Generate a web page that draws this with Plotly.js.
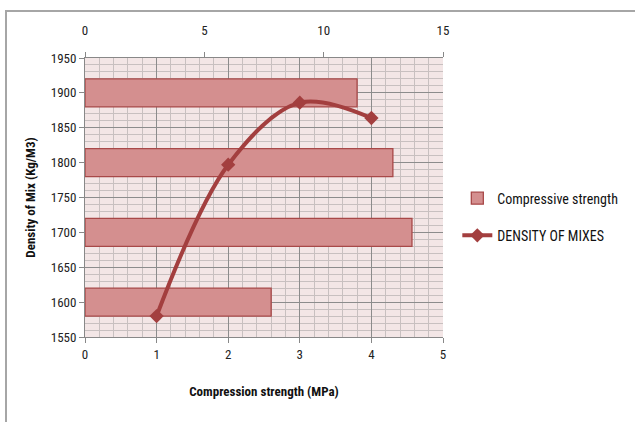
<!DOCTYPE html>
<html>
<head>
<meta charset="utf-8">
<script src="https://cdn.plot.ly/plotly-3.0.1.min.js"></script>
<style>
  html, body { margin: 0; padding: 0; background: #fff; }
  #chart { width: 635px; height: 422px; position: relative; }
  #frame { position: absolute; left: 5px; top: 10px; width: 640px; height: 430px;
           border-left: 2px solid #a6a6a6; border-top: 2px solid #a6a6a6; pointer-events: none; }
</style>
</head>
<body>
<div id="chart"></div>
<div id="frame"></div>
<script>
// Bars: compressive strength per category (top axis 0-15)
const barCategories = [1, 2, 3, 4];
const barValues = [7.8, 13.7, 12.9, 11.4];
// Line: density of mixes vs compression strength (bottom axis)
const lineX = [1, 2, 3, 4];
const lineY = [1580, 1797, 1886, 1864];
const seriesNames = ['Compressive strength', 'DENSITY OF MIXES'];

const FONT = 'Liberation Sans Narrow, Roboto Condensed, Arial Narrow, Liberation Sans, sans-serif';
const darkRed = '#a33f3f';

const data = [
  {
    type: 'bar', orientation: 'h',
    x: barValues, y: barCategories,
    xaxis: 'x', yaxis: 'y',
    width: 0.4,
    name: seriesNames[0], legendgroup: 'a',
    marker: { color: '#d48f8f', line: { color: '#a84848', width: 1.3 } }
  },
  {
    type: 'scatter', mode: 'lines+markers',
    x: lineX, y: lineY,
    xaxis: 'x2', yaxis: 'y2',
    name: seriesNames[1], legendgroup: 'b',
    line: { color: darkRed, width: 4, shape: 'spline', smoothing: 1 },
    marker: { symbol: 'diamond', size: 11, color: darkRed }
  }
];

const layout = {
  width: 635, height: 422,
  margin: { l: 85, r: 190, t: 58, b: 85 },
  paper_bgcolor: '#ffffff',
  plot_bgcolor: '#f3e6e6',
  font: { family: FONT, size: 13, color: '#222' },
  showlegend: true,
  legend: {
    x: 1.04, y: 0.43, xanchor: 'left', yanchor: 'middle',
    traceorder: 'grouped',
    font: { family: FONT, size: 14, color: '#111' },
    tracegroupgap: 16, itemwidth: 30
  },
  xaxis: {
    side: 'top', range: [0, 15], dtick: 5, tick0: 0,
    showgrid: false, zeroline: false,
    ticks: 'outside', ticklen: 5, tickcolor: '#888',
    ticklabelstandoff: 12,
    showline: true, linecolor: '#888', linewidth: 1,
    tickfont: { family: FONT, size: 13, color: '#222' }
  },
  yaxis: {
    range: [0.5, 4.5], visible: false, showgrid: false, zeroline: false
  },
  xaxis2: {
    overlaying: 'x', side: 'bottom', range: [0, 5], dtick: 1, tick0: 0,
    showgrid: true, gridcolor: '#8c8c8c', gridwidth: 1,
    minor: { dtick: 0.2, showgrid: true, gridcolor: '#c8c0c0', gridwidth: 1 },
    zeroline: false,
    ticks: 'outside', ticklen: 5, tickcolor: '#888',
    showline: true, linecolor: '#888', linewidth: 1, mirror: false,
    tickfont: { family: FONT, size: 13, color: '#222' },
    title: { text: '<b>Compression strength (MPa)</b>', font: { family: FONT, size: 13, color: '#111' }, standoff: 26 }
  },
  yaxis2: {
    overlaying: 'y', side: 'left', range: [1550, 1950], dtick: 50, tick0: 1550,
    showgrid: true, gridcolor: '#8c8c8c', gridwidth: 1,
    minor: { dtick: 10, showgrid: true, gridcolor: '#c8c0c0', gridwidth: 1 },
    zeroline: false,
    ticks: 'outside', ticklen: 5, tickcolor: '#888',
    showline: true, linecolor: '#888', linewidth: 1,
    tickfont: { family: FONT, size: 13, color: '#222' },
    title: { text: '<b>Density of Mix (Kg/M3)</b>', font: { family: FONT, size: 13, color: '#111' }, standoff: 12 }
  }
};

Plotly.newPlot('chart', data, layout, { displayModeBar: false, staticPlot: true });
</script>
</body>
</html>
